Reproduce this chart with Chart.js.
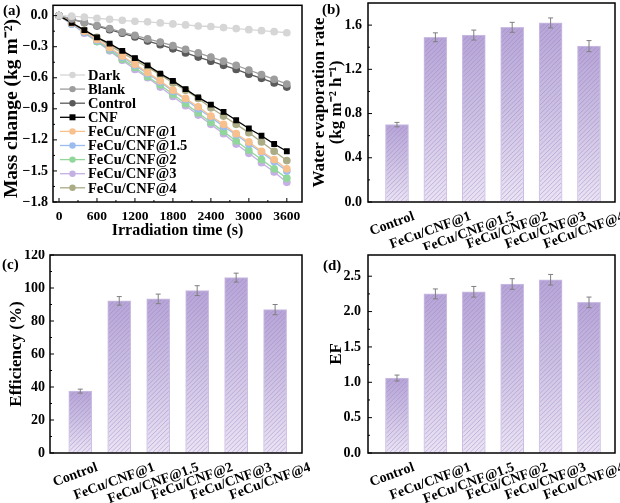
<!DOCTYPE html>
<html>
<head>
<meta charset="utf-8">
<title>Evaporation performance</title>
<script src="https://cdn.jsdelivr.net/npm/chart.js@4.4.1/dist/chart.umd.min.js"></script>
<style>
  body { margin: 0; background: #fff; }
  #wrap { position: relative; width: 620px; height: 503px; overflow: hidden; }
  canvas { position: absolute; }
  .tag { position: absolute; font: bold 15px "Liberation Serif", "Times New Roman", serif; line-height: 1; }
</style>
</head>
<body>
<div id="wrap">
  <canvas id="chartA" width="310" height="250" style="left:0;top:0"></canvas>
  <canvas id="chartB" width="310" height="250" style="left:310px;top:0"></canvas>
  <canvas id="chartC" width="310" height="253" style="left:0;top:250px"></canvas>
  <canvas id="chartD" width="310" height="253" style="left:310px;top:250px"></canvas>
  <div class="tag" style="left:3px;top:3px">(a)</div>
  <div class="tag" style="left:322px;top:2px">(b)</div>
  <div class="tag" style="left:2px;top:257px">(c)</div>
  <div class="tag" style="left:323px;top:258px">(d)</div>
</div>
<script>
const SERIF = '"Liberation Serif", "Times New Roman", serif';

// (a) mass change vs time
const timeS = [0, 200, 400, 600, 800, 1000, 1200, 1400, 1600, 1800, 2000, 2200, 2400, 2600, 2800, 3000, 3200, 3400, 3600];
const xTicksA = [0, 600, 1200, 1800, 2400, 3000, 3600];
const yTicksA = [0, -0.3, -0.6, -0.9, -1.2, -1.5, -1.8];
const seriesNames = ['Dark', 'Blank', 'Control', 'CNF', 'FeCu/CNF@1', 'FeCu/CNF@1.5', 'FeCu/CNF@2', 'FeCu/CNF@3', 'FeCu/CNF@4'];
const dark = [0, -0.005, -0.015, -0.025, -0.035, -0.045, -0.055, -0.06, -0.07, -0.08, -0.09, -0.10, -0.105, -0.115, -0.125, -0.135, -0.145, -0.155, -0.165];
const blank = [0, -0.03, -0.065, -0.095, -0.125, -0.16, -0.19, -0.225, -0.255, -0.29, -0.325, -0.36, -0.40, -0.44, -0.48, -0.525, -0.57, -0.615, -0.66];
const control = [0, -0.035, -0.065, -0.10, -0.135, -0.17, -0.205, -0.245, -0.28, -0.32, -0.36, -0.40, -0.44, -0.48, -0.52, -0.565, -0.605, -0.65, -0.69];
const cnf = [0, -0.07, -0.14, -0.21, -0.27, -0.34, -0.41, -0.48, -0.56, -0.63, -0.71, -0.79, -0.86, -0.93, -1.01, -1.09, -1.16, -1.24, -1.31];
const fecu1 = [0, -0.07, -0.15, -0.23, -0.31, -0.39, -0.47, -0.55, -0.63, -0.72, -0.80, -0.88, -0.97, -1.05, -1.14, -1.22, -1.31, -1.39, -1.48];
const fecu15 = [0, -0.08, -0.16, -0.24, -0.32, -0.40, -0.48, -0.56, -0.64, -0.73, -0.81, -0.90, -0.98, -1.07, -1.15, -1.24, -1.32, -1.41, -1.50];
const fecu2 = [0, -0.08, -0.16, -0.25, -0.33, -0.42, -0.50, -0.59, -0.67, -0.76, -0.85, -0.94, -1.03, -1.12, -1.21, -1.30, -1.39, -1.48, -1.57];
const fecu3 = [0, -0.08, -0.17, -0.25, -0.34, -0.43, -0.52, -0.60, -0.69, -0.78, -0.87, -0.96, -1.05, -1.14, -1.24, -1.33, -1.42, -1.51, -1.61];
const fecu4 = [0, -0.07, -0.14, -0.21, -0.29, -0.36, -0.43, -0.50, -0.57, -0.65, -0.72, -0.80, -0.89, -0.97, -1.05, -1.13, -1.22, -1.31, -1.40];

// (b)-(d) bar panels
const samples = ['Control', 'FeCu/CNF@1', 'FeCu/CNF@1.5', 'FeCu/CNF@2', 'FeCu/CNF@3', 'FeCu/CNF@4'];
const evapRate = [0.70, 1.49, 1.51, 1.58, 1.62, 1.41];
const evapErr = [0.02, 0.04, 0.045, 0.045, 0.045, 0.05];
const efficiency = [37.5, 92.2, 93.4, 98.4, 106.3, 86.9];
const effErr = [1.2, 2.6, 2.9, 3.0, 2.7, 3.1];
const efValues = [1.06, 2.25, 2.28, 2.39, 2.45, 2.13];
const efErr = [0.042, 0.07, 0.075, 0.075, 0.075, 0.075];
const yTicksB = [0, 0.4, 0.8, 1.2, 1.6];
const yTicksC = [0, 20, 40, 60, 80, 100, 120];
const yTicksD = [0, 0.5, 1.0, 1.5, 2.0, 2.5];

const lineColors = ['#d6d6d6', '#9d9d9d', '#5a5a5a', '#000000', '#f8c08c', '#9bbcef', '#91d79b', '#c4b0e2', '#abab86'];
const seriesData = [dark, blank, control, cnf, fecu1, fecu15, fecu2, fecu3, fecu4];

Chart.defaults.font.family = SERIF;
Chart.defaults.font.weight = 'bold';
Chart.defaults.color = '#000';

function fmt(dec) {
  return v => (v < 0 ? '\u2212' : '') + Math.abs(v).toFixed(dec);
}

// box frame with inward major / minor ticks
const framePlugin = {
  id: 'frame',
  afterDraw(chart, args, opts) {
    const { ctx, chartArea: a } = chart;
    ctx.save();
    ctx.strokeStyle = '#000';
    ctx.lineWidth = 1;
    const tickSet = (scale, horiz) => {
      const vals = scale.ticks.map(t => t.value);
      vals.forEach((v, i) => {
        const p = scale.getPixelForValue(v);
        ctx.beginPath();
        if (horiz) { ctx.moveTo(p, a.bottom); ctx.lineTo(p, a.bottom - 4); }
        else { ctx.moveTo(a.left, p); ctx.lineTo(a.left + 4, p); }
        ctx.stroke();
        if (i < vals.length - 1) {
          const m = scale.getPixelForValue((v + vals[i + 1]) / 2);
          ctx.beginPath();
          if (horiz) { ctx.moveTo(m, a.bottom); ctx.lineTo(m, a.bottom - 2); }
          else { ctx.moveTo(a.left, m); ctx.lineTo(a.left + 2, m); }
          ctx.stroke();
        }
      });
    };
    if (opts.xTicks) tickSet(chart.scales.x, true);
    tickSet(chart.scales.y, false);
    ctx.lineWidth = 1.5;
    ctx.strokeRect(a.left, a.top, a.right - a.left, a.bottom - a.top);
    ctx.restore();
  }
};

// legend inside panel (a)
const legendA = {
  id: 'legendA',
  afterDatasetsDraw(chart) {
    const ctx = chart.ctx;
    ctx.save();
    ctx.font = 'bold 14.5px ' + SERIF;
    ctx.textBaseline = 'middle';
    chart.data.datasets.forEach((ds, i) => {
      const y = 75 + i * 14.1;
      ctx.strokeStyle = ds.borderColor;
      ctx.lineWidth = 1.3;
      ctx.beginPath(); ctx.moveTo(60, y); ctx.lineTo(85, y); ctx.stroke();
      ctx.fillStyle = ds.pointBackgroundColor;
      if (ds.pointStyle === 'rect') ctx.fillRect(69.5, y - 3, 6, 6);
      else { ctx.beginPath(); ctx.arc(72.5, y, 3.2, 0, Math.PI * 2); ctx.fill(); }
      ctx.fillStyle = '#000';
      ctx.fillText(ds.label, 88, y + 1);
    });
    ctx.restore();
  }
};

const chartA = new Chart(document.getElementById('chartA'), {
  type: 'line',
  data: {
    labels: timeS,
    datasets: seriesNames.map((name, i) => ({
      label: name,
      data: timeS.map((t, j) => ({ x: t, y: seriesData[i][j] })),
      borderColor: lineColors[i],
      backgroundColor: lineColors[i],
      pointBackgroundColor: lineColors[i],
      pointBorderColor: lineColors[i],
      pointStyle: name === 'CNF' ? 'rect' : 'circle',
      pointRadius: 3.2,
      borderWidth: 1.3,
      tension: 0
    }))
  },
  options: {
    responsive: false,
    animation: false,
    events: [],
    layout: { padding: { left: 0, top: 3, right: 8, bottom: 0 } },
    plugins: { legend: { display: false }, tooltip: { enabled: false }, frame: { xTicks: true } },
    scales: {
      x: {
        type: 'linear', min: -95, max: 3840,
        grid: { display: false, drawTicks: false }, border: { display: false },
        afterBuildTicks: s => { s.ticks = xTicksA.map(v => ({ value: v })); },
        afterFit: s => { s.height = 48; s.paddingLeft = 0; s.paddingRight = 0; },
        ticks: { padding: 6, autoSkip: false, maxRotation: 0, font: { size: 13.5, weight: 'bold' }, color: '#000', callback: v => String(v) },
        title: { display: true, text: 'Irradiation time (s)', font: { size: 16, weight: 'bold' }, padding: { top: 0, bottom: 10 } }
      },
      y: {
        min: -1.8, max: 0.1,
        grid: { display: false, drawTicks: false }, border: { display: false },
        afterBuildTicks: s => { s.ticks = yTicksA.map(v => ({ value: v })); },
        afterFit: s => { s.width = 53; s.paddingTop = 0; s.paddingBottom = 0; },
        ticks: { padding: 5, font: { size: 14, weight: 'bold' }, color: '#000', callback: fmt(1) },
        title: { display: true, text: 'Mass change (kg m\u207B\u00B2)\u2002', font: { size: 19.5, weight: 'bold' }, padding: { top: 0, bottom: 0 } }
      }
    }
  },
  plugins: [framePlugin, legendA]
});

// per-bar vertical gradient
function barFill(context) {
  const chart = context.chart;
  const a = chart.chartArea;
  const el = context.raw;
  if (!a || !el) return '#c2b3dd';
  const top = chart.scales.y.getPixelForValue(el.y);
  const g = chart.ctx.createLinearGradient(0, a.bottom, 0, top);
  g.addColorStop(0, '#ebe4f4');
  g.addColorStop(0.55, '#cbbfe2');
  g.addColorStop(1, '#b7a5d7');
  return g;
}

// hatch, error bars, rotated category labels
const barDecor = {
  id: 'barDecor',
  afterDatasetsDraw(chart) {
    const ctx = chart.ctx;
    const a = chart.chartArea;
    const ds = chart.data.datasets[0];
    const meta = chart.getDatasetMeta(0);
    const ys = chart.scales.y;
    ctx.save();
    meta.data.forEach((bar, i) => {
      const half = bar.width / 2;
      const x0 = bar.x - half + 1, x1 = bar.x + half - 1;
      const y0 = bar.y + 1, y1 = bar.base - 1;
      ctx.save();
      ctx.beginPath(); ctx.rect(x0, y0, x1 - x0, y1 - y0); ctx.clip();
      ctx.strokeStyle = 'rgba(150,128,196,0.45)';
      ctx.lineWidth = 1;
      const h = y1 - y0;
      for (let k = x0 - h; k < x1; k += 4.5) {
        ctx.beginPath(); ctx.moveTo(k, y1); ctx.lineTo(k + h, y0); ctx.stroke();
      }
      ctx.restore();
    });
    ctx.strokeStyle = '#7f7f7f';
    ctx.lineWidth = 1;
    meta.data.forEach((bar, i) => {
      const v = ds.data[i].y, e = ds.errors[i];
      const yt = ys.getPixelForValue(v + e), yb = ys.getPixelForValue(v - e);
      ctx.beginPath();
      ctx.moveTo(bar.x, yt); ctx.lineTo(bar.x, yb);
      ctx.moveTo(bar.x - 2.5, yt); ctx.lineTo(bar.x + 2.5, yt);
      ctx.moveTo(bar.x - 2.5, yb); ctx.lineTo(bar.x + 2.5, yb);
      ctx.stroke();
    });
    const ang = 20 * Math.PI / 180;
    ctx.font = 'bold 14px ' + SERIF;
    ctx.fillStyle = '#000';
    ctx.textAlign = 'center';
    ctx.textBaseline = 'middle';
    meta.data.forEach((bar, i) => {
      const name = chart.data.labels[i];
      const w = ctx.measureText(name).width;
      const cx = bar.x - 5;
      const cy = a.bottom + 14 + w * Math.sin(ang) / 2;
      ctx.save();
      ctx.translate(cx, cy);
      ctx.rotate(-ang);
      ctx.fillText(name, 0, 0);
      ctx.restore();
    });
    ctx.restore();
  }
};

function barChart(id, values, errors, yTicks, yMax, dec, title, opt) {
  return new Chart(document.getElementById(id), {
    type: 'bar',
    data: {
      labels: samples,
      datasets: [{
        data: samples.map((s, i) => ({ x: i, y: values[i] })),
        errors: errors,
        backgroundColor: barFill,
        borderColor: '#cbbde3',
        borderWidth: 1,
        barThickness: 23
      }]
    },
    options: {
      responsive: false,
      animation: false,
      events: [],
      layout: { padding: { left: 0, top: opt.top, right: opt.right, bottom: 0 } },
      plugins: { legend: { display: false }, tooltip: { enabled: false }, frame: { xTicks: false } },
      scales: {
        x: {
          type: 'linear', min: opt.xmin, max: opt.xmax, offset: false,
          grid: { display: false, drawTicks: false }, border: { display: false },
          ticks: { display: false },
          afterFit: s => { s.height = opt.xh; s.paddingLeft = 0; s.paddingRight = 0; }
        },
        y: {
          min: 0, max: yMax,
          grid: { display: false, drawTicks: false }, border: { display: false },
          afterBuildTicks: s => { s.ticks = yTicks.map(v => ({ value: v })); },
          afterFit: s => { s.width = opt.yw; s.paddingTop = 0; s.paddingBottom = 0; },
          ticks: { padding: opt.tp, font: { size: 14, weight: 'bold' }, color: '#000', callback: fmt(dec) },
          title: { display: true, text: title, font: { size: 17, weight: 'bold', lineHeight: opt.lh }, padding: { top: opt.titlePad, bottom: 0 } }
        }
      }
    },
    plugins: [framePlugin, barDecor]
  });
}

const chartB = barChart('chartB', evapRate, evapErr, yTicksB, 1.8, 1,
  ['Water evaporation rate', '(kg m\u207B\u00B2 h\u207B\u00B9)'],
  { top: 3, right: 5, xh: 48, yw: 58, tp: 6, lh: 1.0, titlePad: 1.5, xmin: -0.755, xmax: 5.677 });
const chartC = barChart('chartC', efficiency, effErr, yTicksC, 120, 0,
  'Efficiency (%)',
  { top: 5, right: 8, xh: 50, yw: 50, tp: 5, lh: 1.2, titlePad: 6, xmin: -0.777, xmax: 5.69 });
const chartD = barChart('chartD', efValues, efErr, yTicksD, 2.8, 1,
  'EF',
  { top: 5, right: 5, xh: 50, yw: 58, tp: 7, lh: 1.2, titlePad: 16, xmin: -0.755, xmax: 5.677 });
</script>
</body>
</html>
